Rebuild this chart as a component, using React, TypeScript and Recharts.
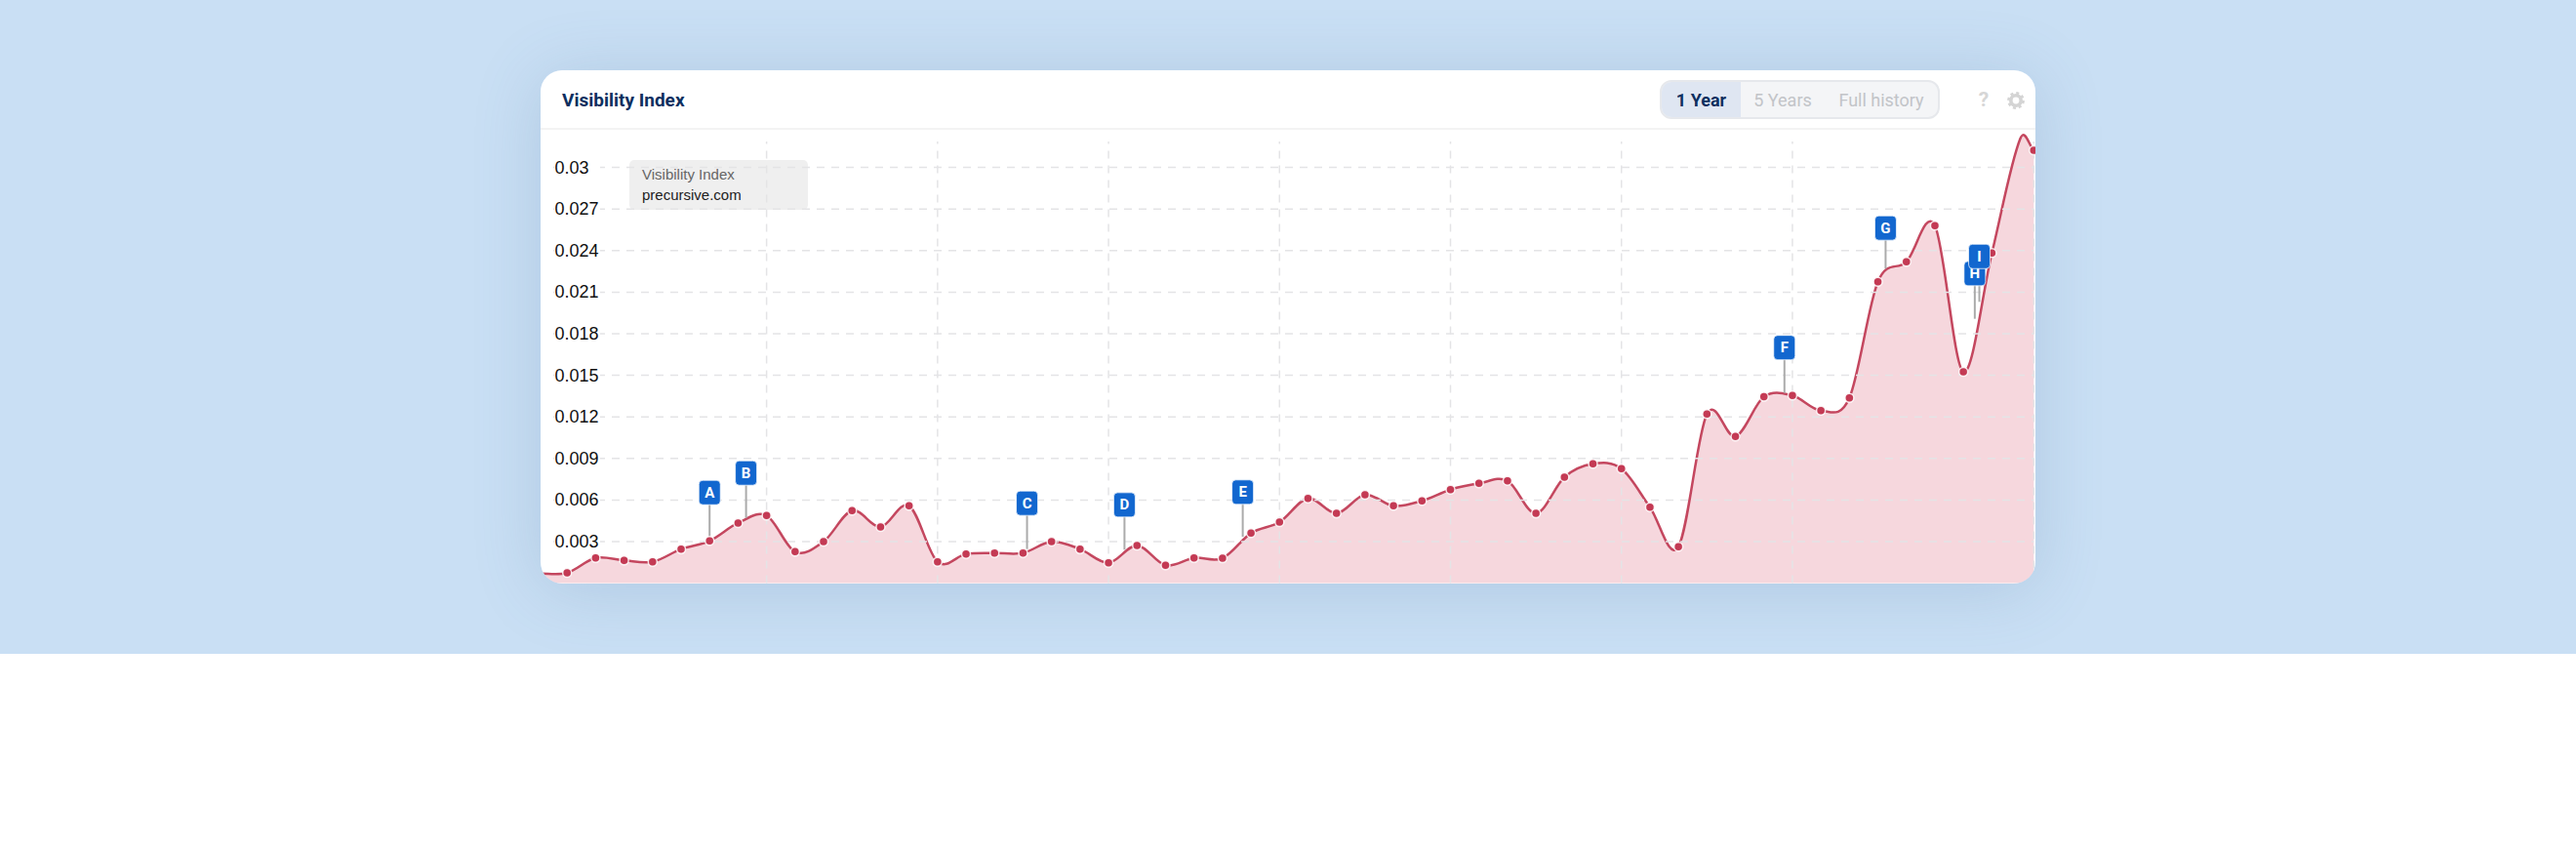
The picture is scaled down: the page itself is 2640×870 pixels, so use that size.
import { Area, ComposedChart, ReferenceDot, ReferenceLine, XAxis, YAxis } from 'recharts'

const weeks = [0, 1, 2, 3, 4, 5, 6, 7, 8, 9, 10, 11, 12, 13, 14, 15, 16, 17, 18, 19, 20, 21, 22, 23, 24, 25, 26, 27, 28, 29, 30, 31, 32, 33, 34, 35, 36, 37, 38, 39, 40, 41, 42, 43, 44, 45, 46, 47, 48, 49, 50, 51, 52, 52.47]
const visibility = [
  0.0007, 0.00075, 0.00182, 0.00164, 0.00154, 0.00246, 0.00305, 0.00434, 0.00488, 0.00227, 0.003,
  0.00523, 0.00406, 0.00558, 0.00154, 0.00211, 0.00218, 0.00218, 0.003, 0.00246, 0.00147, 0.00272,
  0.00129, 0.00182, 0.0018, 0.00361, 0.00441, 0.00612, 0.00504, 0.00638, 0.00558, 0.00594, 0.00675,
  0.0072, 0.00739, 0.00504, 0.00765, 0.00861, 0.00826, 0.00549, 0.00263, 0.0122, 0.01058, 0.01345,
  0.01354, 0.01246, 0.01337, 0.02175, 0.02319, 0.0258, 0.01525, 0.02382, 0.0321, 0.03124,
]
// the reference shows no marker on this week, only the bend of the line
const undottedWeeks = [52]
const yTicks = [0.003, 0.006, 0.009, 0.012, 0.015, 0.018, 0.021, 0.024, 0.027, 0.03]
const yMax = 0.0325
const gridTop = 0.03187
const gridWeeks = [8, 14, 20, 26, 32, 38, 44, 52.47]

const flagLabels = ['A', 'B', 'C', 'D', 'E', 'F', 'G', 'H', 'I']
const flagWeeks = [6, 7.28, 17.14, 20.56, 24.71, 43.72, 47.27, 50.4, 50.56]
const flagBases = [0.00305, 0.00471, 0.00246, 0.00242, 0.00335, 0.01373, 0.0227, 0.01908, 0.0203]
const flagTops = [0.00654, 0.00795, 0.00577, 0.00565, 0.00657, 0.017, 0.02563, 0.02234, 0.02358]

const chartData = weeks.map((week, i) => ({ week, value: visibility[i] }))

const uiFont = 'Roboto, sans-serif'
const chartFont = '"Liberation Sans", Arial, sans-serif'
const gridLine = { stroke: '#e4e4e6', strokeWidth: 1.5, strokeDasharray: '8 7' }

// d3-style curve: catmull-rom tangents, so the line only bends near its points
function splineCurve(context: any) {
  let pts: number[][] = []
  let line = NaN
  return {
    areaStart() { line = 0 },
    areaEnd() { line = NaN },
    lineStart() { pts = [] },
    point(x: number, y: number) { pts.push([x, y]) },
    lineEnd() {
      const slope = (a: number[], b: number[]) => (b[1] - a[1]) / (b[0] - a[0] || 1)
      const tangent = (i: number) => slope(pts[Math.max(i - 1, 0)], pts[Math.min(i + 1, pts.length - 1)])
      pts.forEach((p, i) => {
        if (i === 0) {
          if (line === 1) context.lineTo(p[0], p[1])
          else context.moveTo(p[0], p[1])
          return
        }
        const q = pts[i - 1]
        const dx = (p[0] - q[0]) / 3
        context.bezierCurveTo(q[0] + dx, q[1] + tangent(i - 1) * dx, p[0] - dx, p[1] - tangent(i) * dx, p[0], p[1])
      })
      if (line === 1) context.closePath()
      line = 1 - line
    },
  }
}

function AxisTick({ x, y, payload }: any) {
  return (
    <g>
      <rect x={x} y={y - 10} width={9} height={20} fill="#fff" />
      <rect x={x + 16} y={y - 10} width={47} height={20} fill="#fff" />
      <text x={x + 16.5} y={y + 6} fontFamily={chartFont} fontSize={18} fill="#111">
        {payload.value}
      </text>
    </g>
  )
}

function SeriesDot({ cx, cy, payload }: any) {
  if (undottedWeeks.includes(payload.week)) return <g key={payload.week} />
  return <circle key={payload.week} cx={cx} cy={cy} r={4.5} fill="#c43a54" stroke="#fff" strokeOpacity={0.85} strokeWidth={1.5} />
}

function FlagShape({ cx, cy, label }: any) {
  return (
    <g>
      <rect x={cx - 11} y={cy - 12.5} width={22} height={25} rx={4} fill="#1267cf" stroke="#fff" strokeOpacity={0.7} />
      <text x={cx} y={cy + 5} textAnchor="middle" fontFamily={uiFont} fontWeight={700} fontSize={15} fill="#fff">
        {label}
      </text>
    </g>
  )
}

function GearIcon() {
  return (
    <svg width={18} height={18} viewBox="0 0 18 18" style={{ position: 'absolute', left: 1503, top: 22 }}>
      <circle cx={9} cy={9} r={5.2} fill="none" stroke="#d4d4d4" strokeWidth={3.6} />
      <circle cx={9} cy={9} r={7.6} fill="none" stroke="#d4d4d4" strokeWidth={2.6} strokeDasharray="3 2.97" />
    </svg>
  )
}

function RangeButtons() {
  const base = { position: 'absolute', top: 1, height: 36, lineHeight: '36px', textAlign: 'center', fontFamily: uiFont, fontSize: 18 } as const
  return (
    <div style={{ position: 'absolute', left: 1147, top: 10, width: 283, height: 36, border: '2px solid #e6e8ec', borderRadius: 12, background: '#f4f5f7', overflow: 'hidden' }}>
      <div style={{ position: 'absolute', left: 0, top: 0, width: 81, height: 36, background: '#dfe6f2' }} />
      <div style={{ ...base, left: 0, width: 81, color: '#0d2f5f', fontWeight: 700 }}>1 Year</div>
      <div style={{ ...base, left: 80, width: 88, color: '#c2c4c8' }}>5 Years</div>
      <div style={{ ...base, left: 168, width: 114, color: '#c2c4c8' }}>Full history</div>
    </div>
  )
}

export default function App() {
  return (
    <div style={{ position: 'absolute', left: 0, top: 0, width: 2640, height: 870, background: '#fff', overflow: 'hidden' }}>
      <div style={{ position: 'absolute', left: 0, top: 0, width: 2640, height: 670, overflow: 'hidden', background: '#c9dff4' }}>
        <div style={{ position: 'absolute', left: 554, top: 72, width: 1532, height: 526, borderRadius: 22, boxShadow: '0 6px 70px rgba(70,110,155,0.2)' }} />
      </div>
      <div style={{ position: 'absolute', left: 554, top: 72, width: 1532, height: 526, borderRadius: 22, overflow: 'hidden', background: '#fff' }}>
        <div style={{ position: 'absolute', left: 0, top: 59, width: 1532, height: 2, background: '#f3f3f3' }} />
        <div style={{ position: 'absolute', left: 22, top: 18, fontFamily: uiFont, fontWeight: 700, fontSize: 19, lineHeight: '26px', color: '#0d2f5f' }}>Visibility Index</div>
        <RangeButtons />
        <div style={{ position: 'absolute', left: 1470, top: 16, width: 18, textAlign: 'center', fontFamily: uiFont, fontWeight: 700, fontSize: 21, lineHeight: '28px', color: '#d6d6d6' }}>?</div>
        <GearIcon />
        <div style={{ position: 'absolute', left: -20, top: 0 }}>
          <ComposedChart width={1552} height={526} data={chartData} margin={{ top: 64.1, right: 1.7, bottom: 0.4, left: 17 }}>
            <XAxis type="number" dataKey="week" domain={[0, 52.47]} hide />
            <YAxis type="number" width={1} domain={[0, yMax]} ticks={yTicks} axisLine={false} tickLine={false} tickSize={0} tickMargin={0} tick={AxisTick} />
            {gridWeeks.map((week) => (
              <ReferenceLine key={`v-${week}`} segment={[{ x: week, y: 0 }, { x: week, y: gridTop }]} {...gridLine} />
            ))}
            {yTicks.map((tick) => (
              <ReferenceLine key={`h-${tick}`} y={tick} {...gridLine} />
            ))}
            <Area
              type={splineCurve as any}
              dataKey="value"
              stroke="#c4475f"
              strokeWidth={2.5}
              fill="#d9596f"
              fillOpacity={0.24}
              dot={SeriesDot}
              activeDot={false}
              isAnimationActive={false}
            />
            {flagLabels.map((label, i) => (
              <ReferenceLine
                key={`stem-${label}`}
                segment={[{ x: flagWeeks[i], y: flagBases[i] }, { x: flagWeeks[i], y: flagTops[i] }]}
                stroke="#ababab"
                strokeWidth={2}
              />
            ))}
            {flagLabels.map((label, i) => (
              <ReferenceDot key={`flag-${label}`} x={flagWeeks[i]} y={flagTops[i]} shape={(props: any) => <FlagShape {...props} label={label} />} />
            ))}
          </ComposedChart>
        </div>
        <div style={{ position: 'absolute', left: 91, top: 92, width: 183, height: 51, borderRadius: 5, background: 'rgba(228,228,228,0.6)' }}>
          <div style={{ position: 'absolute', left: 13, top: 5, fontFamily: chartFont, fontSize: 15, lineHeight: '20px', color: '#666' }}>Visibility Index</div>
          <div style={{ position: 'absolute', left: 13, top: 26, fontFamily: chartFont, fontSize: 15, lineHeight: '20px', color: '#222' }}>precursive.com</div>
        </div>
      </div>
    </div>
  )
}
